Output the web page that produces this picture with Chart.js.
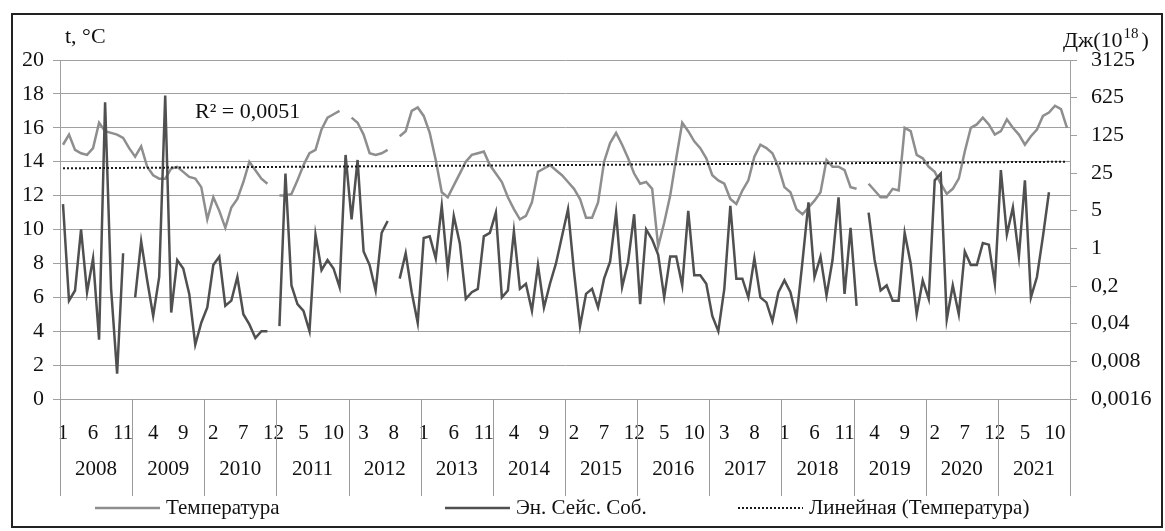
<!DOCTYPE html>
<html>
<head>
<meta charset="utf-8">
<title>Температура и энергия сейсмических событий</title>
<script src="https://cdn.jsdelivr.net/npm/chart.js@4.4.0/dist/chart.umd.min.js"></script>
<style>
    html, body { margin: 0; padding: 0; background: #fff; }
    #wrap { width: 1165px; height: 531px; }
</style>
</head>
<body>
<div id="wrap"><canvas id="grafico" width="1165" height="531"></canvas></div>
<script>
// Годы и месяцы по оси X
const anios = [2008, 2009, 2010, 2011, 2012, 2013, 2014, 2015, 2016, 2017, 2018, 2019, 2020, 2021];
const meses = ['1', '2', '3', '4', '5', '6', '7', '8', '9', '10', '11', '12'];

// Температура, °C (по месяцам, null = нет данных)
const temperatura = [
    15.0, 15.6, 14.7, 14.5, 14.4, 14.8, 16.3, 15.8, 15.7, 15.6, 15.4, 14.8,
    14.3, 14.9, 13.7, 13.2, 13.0, 13.0, 13.6, 13.7, 13.4, 13.1, 13.0, 12.5,
    10.6, 11.9, 11.1, 10.1, 11.3, 11.8, 12.8, 14.0, 13.5, 13.0, 12.7, null,
    12.0, 12.0, 12.1, 12.9, 13.8, 14.5, 14.7, 15.9, 16.6, 16.8, 17.0, null,
    16.6, 16.3, 15.6, 14.5, 14.4, 14.5, 14.7, null, 15.5, 15.8, 17.0, 17.2,
    16.7, 15.7, 14.1, 12.2, 11.9, 12.6, 13.3, 14.0, 14.4, 14.5, 14.6, 13.8,
    13.3, 12.8, 11.9, 11.2, 10.6, 10.8, 11.6, 13.4, 13.6, 13.8, 13.5, 13.2,
    12.8, 12.4, 11.8, 10.7, 10.7, 11.6, 14.0, 15.1, 15.7, 15.0, 14.2, 13.3,
    12.7, 12.8, 12.4, 9.0, 10.4, 12.0, 14.2, 16.3, 15.8, 15.2, 14.8, 14.2,
    13.2, 12.9, 12.7, 11.8, 11.5, 12.3, 12.9, 14.3, 15.0, 14.8, 14.5, 13.7,
    12.5, 12.2, 11.2, 10.9, 11.3, 11.7, 12.2, 14.1, 13.7, 13.7, 13.5, 12.5,
    12.4, null, 12.7, 12.3, 11.9, 11.9, 12.4, 12.3, 16.0, 15.8, 14.4, 14.2,
    13.7, 13.4, 12.7, 12.1, 12.4, 13.0, 14.6, 16.0, 16.2, 16.6, 16.2, 15.6,
    15.8, 16.5, 16.0, 15.6, 15.0, 15.5, 15.9, 16.7, 16.9, 17.3, 17.1, 16.0
];

// Энергия сейсмических событий, Дж (10^18)
const energia = [
    6.63, 0.107, 0.165, 2.24, 0.153, 0.653, 0.0202, 511, 0.177, 0.00474, 0.811, null,
    0.123, 1.35, 0.255, 0.0556, 0.294, 683, 0.0643, 0.607, 0.423, 0.143, 0.0162, 0.0416,
    0.0799, 0.489, 0.702, 0.0859, 0.107, 0.294, 0.0598, 0.0387, 0.0217, 0.029, 0.029, null,
    0.036, 24.4, 0.205, 0.0923, 0.0691, 0.029, 1.8, 0.393, 0.607, 0.423, 0.191, 54.1,
    3.45, 43.6, 0.872, 0.489, 0.165, 1.93, 3.21, null, 0.274, 0.811, 0.153, 0.0416,
    1.56, 1.67, 0.653, 6.17, 0.393, 3.99, 1.25, 0.115, 0.153, 0.177, 1.67, 1.93,
    4.61, 0.123, 0.165, 2.08, 0.177, 0.22, 0.0691, 0.489, 0.0799, 0.22, 0.525, 1.67,
    5.33, 0.366, 0.036, 0.143, 0.177, 0.0799, 0.274, 0.565, 4.61, 0.191, 0.565, 4.29,
    0.0923, 2.24, 1.45, 0.755, 0.123, 0.702, 0.702, 0.205, 4.96, 0.316, 0.316, 0.22,
    0.0556, 0.029, 0.177, 6.17, 0.274, 0.274, 0.123, 0.653, 0.123, 0.0993, 0.0448, 0.153,
    0.255, 0.153, 0.0517, 0.565, 7.13, 0.294, 0.702, 0.133, 0.607, 8.85, 0.143, 2.4,
    0.0859, null, 4.61, 0.607, 0.165, 0.205, 0.107, 0.107, 1.93, 0.525, 0.0598, 0.255,
    0.115, 18.3, 24.4, 0.0481, 0.205, 0.0598, 0.872, 0.489, 0.489, 1.25, 1.17, 0.22,
    28.2, 1.8, 5.73, 0.702, 18.3, 0.123, 0.294, 1.67, 11.0, null, null, null
];

// Деления осей
const ticksTemp = [0, 2, 4, 6, 8, 10, 12, 14, 16, 18, 20];
const ticksEnergia = [0.0016, 0.008, 0.04, 0.2, 1, 5, 25, 125, 625, 3125];

const textoR2 = 'R² = 0,0051';
const FUENTE = "'Liberation Serif', 'Times New Roman', serif";

const etiquetas = anios.flatMap(() => meses);

// Линейный тренд (МНК по номеру точки 1..n)
function tendenciaLineal(serie) {
    let n = 0, sx = 0, sy = 0, sxx = 0, sxy = 0;
    serie.forEach((v, i) => {
        if (v === null) return;
        const x = i + 1;
        n++; sx += x; sy += v; sxx += x * x; sxy += x * v;
    });
    const b = (n * sxy - sx * sy) / (n * sxx - sx * sx);
    const a = (sy - b * sx) / n;
    return serie.map((_, i) => a + b * (i + 1));
}

// Подписи годов, разделители, заголовки осей, легенда и рамка
const oformlenie = {
    id: 'oformlenie',
    afterDraw(chart) {
        const { ctx, chartArea: a, scales: { x } } = chart;
        const paso = (a.right - a.left) / etiquetas.length;
        ctx.save();

        // разделители годов и подписи
        ctx.strokeStyle = '#9a9a9a';
        ctx.lineWidth = 1;
        ctx.fillStyle = '#111';
        ctx.font = '21px ' + FUENTE;
        ctx.textAlign = 'center';
        ctx.textBaseline = 'middle';
        for (let k = 0; k <= anios.length; k++) {
            const px = Math.round(x.getPixelForValue(k * meses.length) - paso / 2) + 0.5;
            ctx.beginPath();
            ctx.moveTo(px, a.bottom);
            ctx.lineTo(px, a.bottom + 97);
            ctx.stroke();
            if (k < anios.length) {
                const cx = x.getPixelForValue(k * meses.length) - paso / 2 + paso * meses.length / 2;
                ctx.fillText(String(anios[k]), cx, a.bottom + 70);
            }
        }

        // заголовки осей
        ctx.textAlign = 'left';
        ctx.font = '22px ' + FUENTE;
        ctx.fillText('t, °C', a.left + 5, 37);
        let tx = a.right - 7;
        ctx.fillText('Дж(10', tx, 41);
        tx += ctx.measureText('Дж(10').width;
        ctx.font = '15px ' + FUENTE;
        ctx.fillText('18', tx + 1, 34);
        tx += ctx.measureText('18').width + 4;
        ctx.font = '22px ' + FUENTE;
        ctx.fillText(')', tx, 41);

        // R²
        ctx.fillText(textoR2, 195, 112);

        // легенда
        const inicio = [95, 445, 738];
        const yl = 508;
        ctx.font = '21px ' + FUENTE;
        chart.data.datasets.forEach((ds, i) => {
            const x0 = inicio[i];
            ctx.save();
            ctx.strokeStyle = ds.borderColor;
            ctx.lineWidth = ds.borderWidth;
            ctx.setLineDash(ds.borderDash || []);
            ctx.beginPath();
            ctx.moveTo(x0, yl);
            ctx.lineTo(x0 + 65, yl);
            ctx.stroke();
            ctx.restore();
            ctx.fillText(ds.label, x0 + 71, yl);
        });

        // рамка
        ctx.strokeStyle = '#222';
        ctx.lineWidth = 2;
        ctx.strokeRect(12, 14, 1150, 513);
        ctx.restore();
    }
};

Chart.defaults.font.family = FUENTE;
Chart.defaults.color = '#111';

new Chart(document.getElementById('grafico'), {
    type: 'line',
    data: {
        labels: etiquetas,
        datasets: [{
            label: 'Температура',
            data: temperatura,
            yAxisID: 'y',
            borderColor: '#8e8e8e',
            borderWidth: 2.5,
            pointRadius: 0,
            spanGaps: false,
            order: 2
        }, {
            label: 'Эн. Сейс. Соб.',
            data: energia,
            yAxisID: 'y2',
            borderColor: '#505050',
            borderWidth: 2.5,
            pointRadius: 0,
            spanGaps: false,
            order: 1
        }, {
            label: 'Линейная (Температура)',
            data: tendenciaLineal(temperatura),
            yAxisID: 'y',
            borderColor: '#1a1a1a',
            borderWidth: 2,
            borderDash: [2, 2],
            pointRadius: 0,
            order: 0
        }]
    },
    options: {
        responsive: false,
        animation: false,
        devicePixelRatio: 1,
        layout: { padding: { top: 60, bottom: 44, left: 0, right: 0 } },
        plugins: {
            legend: { display: false },
            tooltip: { enabled: false }
        },
        scales: {
            x: {
                type: 'category',
                offset: true,
                grid: { display: false },
                border: { display: false },
                ticks: {
                    autoSkip: false,
                    maxRotation: 0,
                    minRotation: 0,
                    padding: 14,
                    font: { size: 21 },
                    callback: function (v, i) {
                        return i % 5 === 0 ? this.getLabelForValue(v) : '';
                    }
                },
                afterFit: s => { s.height = 88; }
            },
            y: {
                type: 'linear',
                position: 'left',
                min: 0,
                max: 20,
                afterBuildTicks: s => { s.ticks = ticksTemp.map(v => ({ value: v })); },
                ticks: { font: { size: 22 }, padding: 9 },
                grid: { color: '#a0a0a0', lineWidth: 1, tickLength: 7 },
                border: { display: true, color: '#a0a0a0' },
                afterFit: s => { s.width = 60; }
            },
            y2: {
                type: 'logarithmic',
                position: 'right',
                min: 0.0016,
                max: 3125,
                afterBuildTicks: s => { s.ticks = ticksEnergia.map(v => ({ value: v })); },
                ticks: {
                    font: { size: 22 },
                    padding: 14,
                    callback: v => String(v).replace('.', ',')
                },
                grid: { drawOnChartArea: false, color: '#a0a0a0', tickLength: 7 },
                border: { display: true, color: '#a0a0a0' },
                afterFit: s => { s.width = 95; }
            }
        }
    },
    plugins: [oformlenie]
});
</script>
</body>
</html>
